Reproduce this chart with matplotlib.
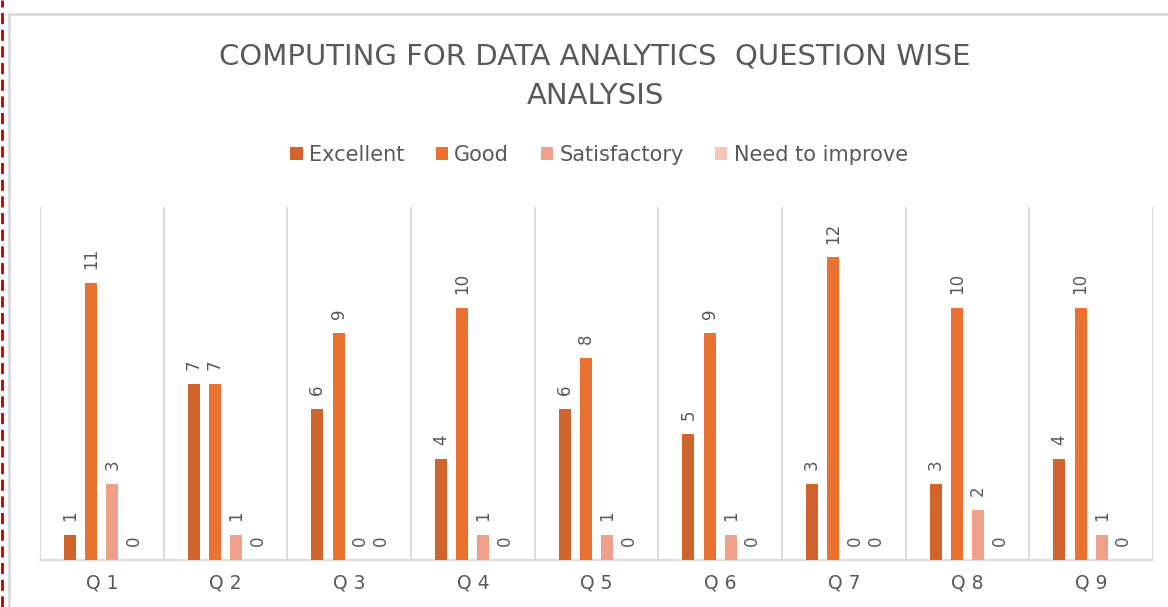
import matplotlib
matplotlib.use("Agg")
import matplotlib.pyplot as plt
import numpy as np
from matplotlib.patches import Rectangle
from matplotlib.lines import Line2D

categories = ["Q 1", "Q 2", "Q 3", "Q 4", "Q 5", "Q 6", "Q 7", "Q 8", "Q 9"]
series_names = ["Excellent", "Good", "Satisfactory", "Need to improve"]
excellent = [1, 7, 6, 4, 6, 5, 3, 3, 4]
good = [11, 7, 9, 10, 8, 9, 12, 10, 10]
satisfactory = [3, 1, 0, 1, 1, 1, 0, 2, 1]
need_to_improve = [0, 0, 0, 0, 0, 0, 0, 0, 0]
colors = ["#CF642C", "#E97132", "#EFA08A", "#F4C6B8"]

W, H = 1168, 607
fig = plt.figure(figsize=(W / 100, H / 100), dpi=100)
fig.patch.set_facecolor("white")

# chart frame (cropped screenshot) and red dashed page edge
fig.add_artist(Rectangle((9 / W, -0.1), 1.2, (H - 14) / H + 0.1, transform=fig.transFigure,
                         fill=False, edgecolor="#D9D9D9", linewidth=2))
fig.add_artist(Line2D([1.5 / W, 1.5 / W], [0, 1], transform=fig.transFigure,
                      color="#C00000", linewidth=2, linestyle=(0, (4, 2))))

ax = fig.add_axes([40 / W, (H - 560) / H, (1153 - 40) / W, (560 - 207) / H])
x = np.arange(len(categories))
offs = [-1.5, -0.5, 0.5, 1.5]
step = 0.172
width = 0.097
data = [excellent, good, satisfactory, need_to_improve]
txtc = "#595959"
for i, (name, vals) in enumerate(zip(series_names, data)):
    pos = x + offs[i] * step
    ax.bar(pos, vals, width=width, color=colors[i], label=name, zorder=3)
    for p, v in zip(pos, vals):
        ax.annotate(str(v), (p, v), xytext=(0, 10), textcoords="offset points",
                    rotation=90, ha="center", va="bottom", fontsize=12, color=txtc)

ax.set_xlim(-0.5, len(categories) - 0.5)
ax.set_ylim(0, 14)
ax.set_yticks([])
ax.set_xticks(x)
ax.set_xticklabels(categories, fontsize=13.5, color=txtc)
ax.set_xticks(np.arange(-0.5, len(categories), 1), minor=True)
ax.tick_params(axis="x", which="both", length=0, pad=10)
ax.grid(axis="x", which="minor", color="#D9D9D9", linewidth=1.3, zorder=0)
for s in ["top", "left", "right"]:
    ax.spines[s].set_visible(False)
ax.spines["bottom"].set_color("#D9D9D9")
ax.spines["bottom"].set_linewidth(1.3)
ax.set_facecolor("none")

fig.text(595 / W, 1 - 56 / H, "COMPUTING FOR DATA ANALYTICS  QUESTION WISE",
         ha="center", va="center", fontsize=21, color=txtc)
fig.text(595 / W, 1 - 96 / H, "ANALYSIS", ha="center", va="center", fontsize=21, color=txtc)

handles, labels = ax.get_legend_handles_labels()
leg = fig.legend(handles, labels, loc="center", bbox_to_anchor=(599 / W, 1 - 155 / H), ncol=4,
                 frameon=False, fontsize=15, handlelength=0.6, handleheight=0.6,
                 handletextpad=0.3, columnspacing=1.5)
for t in leg.get_texts():
    t.set_color(txtc)

fig.savefig("out.png", dpi=100)
